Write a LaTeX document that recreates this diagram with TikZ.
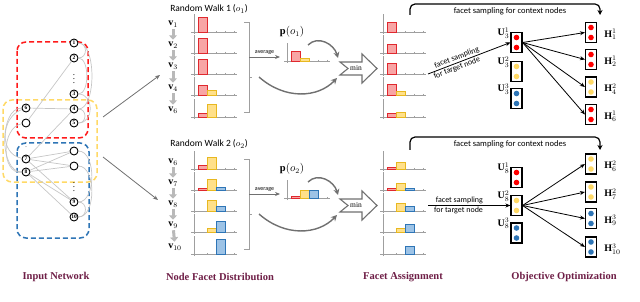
\documentclass[tikz,border=0pt]{standalone}
\usepackage{fontspec}
\setmainfont{Liberation Serif}
\newfontfamily\calibrifont{Carlito}
\usetikzlibrary{arrows.meta}

\definecolor{netred}{HTML}{FF1A1A}
\definecolor{netyellow}{HTML}{FFD966}
\definecolor{netblue}{HTML}{2E75B6}
\definecolor{barred}{HTML}{F8A5A5}
\definecolor{barredline}{HTML}{E0282E}
\definecolor{baryellow}{HTML}{FFE08A}
\definecolor{baryellowline}{HTML}{E8B820}
\definecolor{barblue}{HTML}{9DC3E6}
\definecolor{barblueline}{HTML}{2E75B6}
\definecolor{dotred}{HTML}{FF0000}
\definecolor{dotyellow}{HTML}{FFD966}
\definecolor{dotblue}{HTML}{2E75B6}
\definecolor{captioncol}{HTML}{6E1E46}
\definecolor{flowgray}{HTML}{707070}

\begin{document}
\begin{tikzpicture}[x=1pt,y=-1pt,
  netnode/.style={circle,draw=black,line width=0.9pt,fill=white,minimum size=8pt,inner sep=0pt,font=\fontsize{5.5}{5.5}\selectfont\bfseries},
  netedge/.style={draw=gray!45,line width=0.7pt},
  netgroup/.style={draw=#1,line width=1.5pt,rounded corners=9pt,dash pattern=on 5pt off 3pt},
  flow/.style={draw=flowgray,line width=0.8pt,-{Stealth[length=5pt,width=4pt]}},
  bendflow/.style={draw=flowgray,line width=1.4pt,-{Stealth[length=6pt,width=6pt]}},
  walkstep/.style={draw=gray!55,line width=3pt,-{Triangle[width=8pt,length=4.5pt]},shorten <=1pt,shorten >=1pt},
  chartaxis/.style={draw=gray!75,line width=0.7pt},
  redbar/.style={fill=barred,draw=barredline,line width=0.6pt},
  yellowbar/.style={fill=baryellow,draw=baryellowline,line width=0.6pt},
  bluebar/.style={fill=barblue,draw=barblueline,line width=0.6pt},
  vlab/.style={inner sep=1pt,font=\fontsize{10}{12}\selectfont},
  sans/.style={inner sep=1pt,font=\calibrifont\fontsize{#1}{#1}\selectfont},
  minshape/.style={draw=flowgray,fill=white,line width=1.1pt,line join=miter},
  facetbox/.style={rectangle,draw=black,line width=1.1pt,fill=white,minimum width=11pt,minimum height=20pt,inner sep=0pt,
    path picture={\fill[#1] ([yshift=5pt]path picture bounding box.center) circle (2.8pt);
                  \fill[#1] ([yshift=-5pt]path picture bounding box.center) circle (2.8pt);}},
  ulab/.style={anchor=east,yshift=-1pt,inner sep=1pt,font=\fontsize{10}{12}\selectfont},
  hlab/.style={anchor=west,xshift=6pt,yshift=-2pt,inner sep=1pt,font=\fontsize{10}{12}\selectfont},
  sample/.style={draw=black,line width=0.8pt,-{Stealth[length=5pt,width=4pt]}},
  ctxflow/.style={draw=black,line width=1.2pt,rounded corners=5pt,-{Stealth[length=5pt,width=5pt]}},
  caption/.style={font=\fontsize{10.5}{12}\selectfont\bfseries,text=captioncol}]
\useasboundingbox (0,0) rectangle (640,302);

% input network
\draw[netgroup=netyellow] (3,100) rectangle (97,182);
\draw[netgroup=netred] (17,42) rectangle (88,138);
\draw[netgroup=netblue] (17,143) rectangle (89,238);

\node[netnode] (n1) at (74,43) {1};
\node[netnode] (n2) at (74,58) {2};
\node[netnode] (n3) at (74,94) {3};
\node[netnode] (n4) at (74,109) {4};
\node[netnode] (n5) at (74,123) {5};
\node[netnode] (na) at (74,151) {};
\node[netnode] (nb) at (74,166) {};
\node[netnode] (n9) at (74,202) {9};
\node[netnode] (n10) at (74,217) {10};
\node[netnode] (n6) at (26,108) {6};
\node[netnode] (nc) at (26,123) {};
\node[netnode] (n7) at (26,159) {7};
\node[netnode] (n8) at (26,172) {8};
\node[font=\fontsize{9}{9}\selectfont] (dots1) at (74,76) {$\vdots$};
\node[font=\fontsize{9}{9}\selectfont] (dots2) at (74,184) {$\vdots$};
\node[font=\fontsize{6}{6}\selectfont] (dots3) at (26,140) {$\vdots$};

\draw[netedge] (n1) to[out=0,in=0,looseness=1.6] (n2);
\draw[netedge] (n1) to[out=0,in=0,looseness=0.7] (n4);
\draw[netedge] (n2) to[out=0,in=0,looseness=0.8] (n3);
\draw[netedge] (n3) to[out=0,in=0,looseness=1.4] (n5);
\draw[netedge] (n4) to[out=0,in=0,looseness=1.6] (n5);
\draw[netedge] (n2) -- (nc);
\draw[netedge] (n6) -- (n4);
\draw[netedge] (n4) -- (n7);
\draw[netedge] (n6) to[out=180,in=180,looseness=0.9] (n8);
\draw[netedge] (n6) to[out=200,in=170,looseness=1.2] (n7);
\draw[netedge] (nc) to[out=190,in=185,looseness=1.1] (n8);
\draw[netedge] (n7) -- (na);
\draw[netedge] (n7) -- (nb);
\draw[netedge] (n8) -- (na);
\draw[netedge] (n8) -- (nb);
\draw[netedge] (n7) -- (n9);
\draw[netedge] (n8) -- (n9);
\draw[netedge] (n8) -- (n10);
\draw[netedge] (na) to[out=0,in=0,looseness=0.9] (n9);
\draw[netedge] (nb) to[out=0,in=0,looseness=0.9] (n10);
\draw[netedge] (n9) to[out=0,in=0,looseness=1.6] (n10);

\coordinate (net1) at (103,117);
\coordinate (net2) at (103,157);
\coordinate (walk1) at (160,75);
\coordinate (walk2) at (158,200);
\draw[flow] (net1) -- (walk1);
\draw[flow] (net2) -- (walk2);

% mini charts: axis x / baseline / red / yellow / blue
\foreach \cx/\cb/\hr/\hy/\hb in {194/32/15/0/0, 194/53/15/0/0, 194/74/15/0/0, 194/95/10/5/0, 194/117/4/13/0,
    194/169/4/12/0, 194/190/2/11/2.5, 194/211/0/11/5, 194/232/0/4/11, 194/254/0/0/15,
    287/61/10/3/0, 287/198/1.5/8/7.5,
    383/32/10/0/0, 383/53/9/0/0, 383/74/11/0/0, 383/95/10.5/4/0, 383/117/4/4.5/0,
    383/169/2/6.5/0, 383/190/2/7/2, 383/211/0/8/4.5, 383/232/0/4/7.5, 383/254/0/0/7.5}{
  \draw[chartaxis] (\cx-3,\cb) -- (\cx+43,\cb);
  \draw[chartaxis] (\cx,\cb+2) -- (\cx,\cb-18);
  \foreach \t in {13,22,31,40} \draw[chartaxis] (\cx+\t,\cb-1) -- (\cx+\t,\cb+1);
  \ifdim\hr pt>0pt \draw[redbar] (\cx+4,\cb) rectangle (\cx+13,\cb-\hr); \fi
  \ifdim\hy pt>0pt \draw[yellowbar] (\cx+13,\cb) rectangle (\cx+22,\cb-\hy); \fi
  \ifdim\hb pt>0pt \draw[bluebar] (\cx+22,\cb) rectangle (\cx+31,\cb-\hb); \fi
}

% node facet distribution
\node[sans=9.5] (rw1) at (209,9) {Random Walk 1 ($o_1$)};
\node[sans=9.5] (rw2) at (209,144) {Random Walk 2 ($o_2$)};

\node[vlab] (v1) at (173,24) {$\mathbf{v}_1$};
\node[vlab] (v2) at (173,45) {$\mathbf{v}_2$};
\node[vlab] (v3) at (173,66) {$\mathbf{v}_3$};
\node[vlab] (v4) at (173,88) {$\mathbf{v}_4$};
\node[vlab] (v6) at (173,110) {$\mathbf{v}_6$};
\draw[walkstep] (v1) -- (v2);
\draw[walkstep] (v2) -- (v3);
\draw[walkstep] (v3) -- (v4);
\draw[walkstep] (v4) -- (v6);

\node[vlab] (w6) at (173,162) {$\mathbf{v}_6$};
\node[vlab] (w7) at (173,183) {$\mathbf{v}_7$};
\node[vlab] (w8) at (173,204) {$\mathbf{v}_8$};
\node[vlab] (w9) at (173,225) {$\mathbf{v}_9$};
\node[vlab] (w10) at (175,247) {$\mathbf{v}_{10}$};
\draw[walkstep] (w6) -- (w7);
\draw[walkstep] (w7) -- (w8);
\draw[walkstep] (w8) -- (w9);
\draw[walkstep] (w9) -- (w10);

\draw[chartaxis,line width=0.9pt] (244,22) -- (249,22) -- (249,112) -- (244,112);
\draw[chartaxis,line width=0.9pt] (249,77) -- (252,77);
\draw[chartaxis,line width=0.9pt] (244,159) -- (249,159) -- (249,249) -- (244,249);
\draw[chartaxis,line width=0.9pt] (249,214) -- (252,214);

\coordinate (avg1) at (249,57);
\coordinate (pin1) at (280,57);
\coordinate (avg2) at (249,194);
\coordinate (pin2) at (280,194);
\draw[flow] (avg1) -- (pin1) node[midway,above=1pt,sans=6] {average};
\draw[flow] (avg2) -- (pin2) node[midway,above=1pt,sans=6] {average};

\node[inner sep=1pt,font=\fontsize{10.5}{12}\selectfont] (p1) at (292,32) {$\mathbf{p}(o_1)$};
\node[inner sep=1pt,font=\fontsize{10.5}{12}\selectfont] (p2) at (292,169) {$\mathbf{p}(o_2)$};

% min
\draw[minshape] (340,62) -- (362,62) -- (362,54) -- (377,68.5) -- (362,83) -- (362,75) -- (340,75) -- (348,68.5) -- cycle;
\node[font=\fontsize{7.5}{8}\selectfont] (min1) at (356,68.5) {min};
\draw[minshape] (340,199) -- (362,199) -- (362,191) -- (377,205.5) -- (362,220) -- (362,212) -- (340,212) -- (348,205.5) -- cycle;
\node[font=\fontsize{7.5}{8}\selectfont] (min2) at (356,205.5) {min};

\coordinate (pout1) at (308,45);
\coordinate (brk1) at (259,77);
\coordinate (mina1) at (338,58);
\coordinate (minb1) at (337,78);
\draw[bendflow] (pout1) .. controls (318,35) and (334,44) .. (mina1);
\draw[bendflow] (brk1) .. controls (285,100) and (318,98) .. (minb1);

\coordinate (pout2) at (308,182);
\coordinate (brk2) at (259,214);
\coordinate (mina2) at (338,195);
\coordinate (minb2) at (337,215);
\draw[bendflow] (pout2) .. controls (318,172) and (334,181) .. (mina2);
\draw[bendflow] (brk2) .. controls (285,237) and (318,235) .. (minb2);

% objective optimization
\node[facetbox=dotred,label={[ulab]north west:$\mathbf{U}_3^1$}] (U31) at (516.5,42.5) {};
\node[facetbox=dotyellow,label={[ulab]north west:$\mathbf{U}_3^2$}] (U32) at (516.5,71.5) {};
\node[facetbox=dotblue,label={[ulab]north west:$\mathbf{U}_3^3$}] (U33) at (516.5,98.5) {};
\node[facetbox=dotred,label={[hlab]east:$\mathbf{H}_1^1$}] (H11) at (591,32.5) {};
\node[facetbox=dotred,label={[hlab]east:$\mathbf{H}_2^1$}] (H21) at (591,59.5) {};
\node[facetbox=dotyellow,label={[hlab]east:$\mathbf{H}_4^2$}] (H42) at (591,87) {};
\node[facetbox=dotred,label={[hlab]east:$\mathbf{H}_6^1$}] (H61) at (591,114.5) {};

\node[facetbox=dotred,label={[ulab]north west:$\mathbf{U}_8^1$}] (U81) at (516.5,177.5) {};
\node[facetbox=dotyellow,label={[ulab]north west:$\mathbf{U}_8^2$}] (U82) at (516.5,205.5) {};
\node[facetbox=dotblue,label={[ulab]north west:$\mathbf{U}_8^3$}] (U83) at (516.5,233) {};
\node[facetbox=dotyellow,label={[hlab]east:$\mathbf{H}_6^2$}] (H62) at (591,164) {};
\node[facetbox=dotyellow,label={[hlab]east:$\mathbf{H}_7^2$}] (H72) at (591,192) {};
\node[facetbox=dotblue,label={[hlab]east:$\mathbf{H}_9^3$}] (H93) at (591,218.5) {};
\node[facetbox=dotblue,label={[hlab]east:$\mathbf{H}_{10}^3$}] (H103) at (591,247) {};

\coordinate (fa1) at (428,74);
\coordinate (fa2) at (428,205.5);
\draw[sample] (fa1) -- (U31.west)
  node[pos=0.37,sloped,above,sans=8] {facet sampling}
  node[pos=0.33,sloped,below,sans=8] {for target node};
\draw[sample] (fa2) -- (U82.west)
  node[pos=0.38,above,sans=8] {facet sampling}
  node[pos=0.37,below,sans=8] {for target node};

\draw[sample] (U31.east) -- (H11.west);
\draw[sample] (U31.east) -- (H21.west);
\draw[sample] (U31.east) -- (H42.west);
\draw[sample] (U31.east) -- (H61.west);
\draw[sample] (U82.east) -- (H62.west);
\draw[sample] (U82.east) -- (H72.west);
\draw[sample] (U82.east) -- (H93.west);
\draw[sample] (U82.east) -- (H103.west);

\coordinate (ctxa1) at (410,15);
\coordinate (ctxb1) at (600,15);
\coordinate (ctxa2) at (410,150);
\coordinate (ctxb2) at (600,150);
\draw[ctxflow] (ctxa1) -- (410,4) -- (600,4) -- (ctxb1);
\node[sans=8.5] (ctx1) at (510,11) {facet sampling for context nodes};
\draw[ctxflow] (ctxa2) -- (410,137) -- (600,137) -- (ctxb2);
\node[sans=8.5] (ctx2) at (510,144) {facet sampling for context nodes};

% captions
\node[caption] (cap1) at (56,277) {Input Network};
\node[caption] (cap2) at (220,277) {Node Facet Distribution};
\node[caption] (cap3) at (403,277) {Facet Assignment};
\node[caption] (cap4) at (564,277) {Objective Optimization};
\end{tikzpicture}
\end{document}
